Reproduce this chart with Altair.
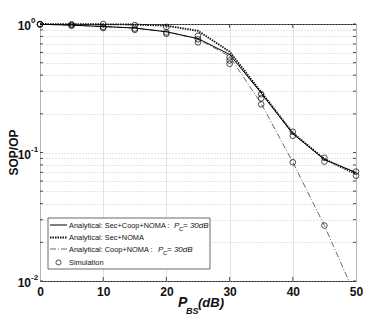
import altair as alt
import pandas as pd

# ---------------- data ----------------
p_bs = [0, 5, 10, 15, 20, 25, 30, 35, 40, 45, 50]
sop_sec_coop = [0.995, 0.98, 0.955, 0.93, 0.87, 0.77, 0.58, 0.29, 0.14, 0.088, 0.070]
sop_sec = [1.0, 0.998, 0.995, 0.99, 0.97, 0.885, 0.61, 0.295, 0.142, 0.089, 0.068]
op_coop = [0.995, 0.98, 0.955, 0.93, 0.87, 0.765, 0.56, 0.24, 0.084, 0.027, 0.0075]

sim_sec_coop = [0.99, 0.97, 0.93, 0.90, 0.84, 0.72, 0.52, 0.264, 0.135, 0.085, 0.066]
sim_sec = [1.0, 0.995, 1.0, 0.98, 0.95, 0.81, 0.55, 0.284, 0.145, 0.091, 0.071]
sim_coop = [0.995, 0.98, 0.95, 0.92, 0.86, 0.76, 0.49, 0.237, 0.084, 0.027, None]

x_ticks = [0, 10, 20, 30, 40, 50]
y_major = [1, 0.1, 0.01]
y_major_sup = ["0", "-1", "-2"]
y_grid = [m * d for d in (0.01, 0.1) for m in range(1, 10)] + [1]

legend_labels = ["Analytical: Sec+Coop+NOMA :", "Analytical: Sec+NOMA",
                 "Analytical: Coop+NOMA :", "Simulation"]

# ---------------- frames ----------------
df_lines = pd.DataFrame({"x": p_bs, "a": sop_sec_coop, "b": sop_sec, "c": op_coop})
sims = []
for xv, v in zip(p_bs, sim_sec_coop):
    sims.append({"x": xv, "y": v})
for xv, v in zip(p_bs, sim_sec):
    sims.append({"x": xv, "y": v})
for xv, v in zip(p_bs, sim_coop):
    if v is not None:
        sims.append({"x": xv, "y": v})
df_sims = pd.DataFrame(sims)

W, H = 316, 257
FONT = "Liberation Sans"

xs = alt.Scale(domain=[0, 50], nice=False)
ys = alt.Scale(type="log", domain=[0.01, 1], nice=False)

x_axis = alt.Axis(values=x_ticks, grid=True, gridColor="#d9d9d9", gridWidth=0.8,
                  ticks=False, domain=False, labelFont=FONT, labelFontWeight="bold",
                  labelFontSize=12, labelColor="#111", labelPadding=5, title=None,
                  labelFlush=False)
y_axis = alt.Axis(values=y_grid, grid=True, gridColor="#bdbdbd", gridDash=[1, 2],
                  gridWidth=0.8, ticks=False, domain=False, labels=False, title=None)

base = alt.Chart(df_lines)

grid = alt.Chart(df_lines).mark_point(opacity=0).encode(
    x=alt.X("x:Q", scale=xs, axis=x_axis),
    y=alt.Y("a:Q", scale=ys, axis=y_axis),
)

line_a = base.mark_line(color="#000", strokeWidth=1).encode(
    x=alt.X("x:Q", scale=xs), y=alt.Y("a:Q", scale=ys))
line_b = base.mark_line(color="#111", strokeWidth=1.8, strokeDash=[1.5, 1]).encode(
    x=alt.X("x:Q", scale=xs), y=alt.Y("b:Q", scale=ys))
line_c = base.mark_line(color="#444", strokeWidth=0.8, strokeDash=[6, 2, 1, 2], clip=True).encode(
    x=alt.X("x:Q", scale=xs), y=alt.Y("c:Q", scale=ys))

pts = alt.Chart(df_sims).mark_point(shape="circle", filled=False, color="#000",
                                     size=32, strokeWidth=1).encode(
    x=alt.X("x:Q", scale=xs), y=alt.Y("y:Q", scale=ys))

# inward ticks
df_xt = pd.DataFrame({"x": x_ticks[1:-1]})
xt_bot = alt.Chart(df_xt).mark_rule(color="#222", strokeWidth=0.8).encode(
    x=alt.X("x:Q", scale=xs), y=alt.value(H), y2=alt.value(H - 4))
xt_top = alt.Chart(df_xt).mark_rule(color="#222", strokeWidth=0.8).encode(
    x=alt.X("x:Q", scale=xs), y=alt.value(0), y2=alt.value(4))
df_yt = pd.DataFrame({"y": y_grid})
yt_r = alt.Chart(df_yt).mark_rule(color="#222", strokeWidth=0.8).encode(
    y=alt.Y("y:Q", scale=ys), x=alt.value(W), x2=alt.value(W - 3))
yt_l = alt.Chart(df_yt).mark_rule(color="#222", strokeWidth=0.8).encode(
    y=alt.Y("y:Q", scale=ys), x=alt.value(0), x2=alt.value(3))

# y tick labels 10^k
df_yl = pd.DataFrame({"y": y_major, "sup": y_major_sup})
yl_base = alt.Chart(df_yl).mark_text(font=FONT, fontWeight="bold", fontSize=12,
                                     align="right", baseline="middle", dy=2,
                                     color="#111").encode(
    y=alt.Y("y:Q", scale=ys), x=alt.value(-9), text=alt.value("10"))
yl_sup = alt.Chart(df_yl).mark_text(font=FONT, fontWeight="bold", fontSize=8,
                                    align="left", baseline="middle", dy=-3,
                                    color="#111").encode(
    y=alt.Y("y:Q", scale=ys), x=alt.value(-9), text="sup:N")

one = alt.Data(values=[{}])


def txt(s, x, y, size, style="normal", weight="bold", align="left", font=FONT, angle=0):
    kw = dict(font=font, fontSize=size, fontStyle=style, fontWeight=weight,
              align=align, baseline="alphabetic", color="#111")
    if angle:
        kw["angle"] = angle
        kw["baseline"] = "middle"
        kw["align"] = "center"
    return alt.Chart(one).mark_text(**kw).encode(
        x=alt.value(x), y=alt.value(y), text=alt.value(s))


titles = [
    txt("P", 138, 282.5, 14, style="italic"),
    txt("BS", 146, 289.5, 9, style="italic"),
    txt("(dB)", 158, 282.5, 13, style="italic"),
    txt("SOP/OP", -26, H / 2, 12, angle=270),
]

# legend
legend_box = alt.Chart(one).mark_rect(fill="white", stroke="#444", strokeWidth=0.8).encode(
    x=alt.value(8), x2=alt.value(170), y=alt.value(194), y2=alt.value(245))
ly = [201, 213.5, 225, 238.5]
leg = [legend_box]
leg.append(alt.Chart(one).mark_rule(color="#000", strokeWidth=1).encode(
    x=alt.value(10), x2=alt.value(27), y=alt.value(ly[0])))
leg.append(alt.Chart(one).mark_rule(color="#111", strokeWidth=1.8, strokeDash=[1.5, 1]).encode(
    x=alt.value(10), x2=alt.value(27), y=alt.value(ly[1])))
leg.append(alt.Chart(one).mark_rule(color="#444", strokeWidth=0.8, strokeDash=[6, 2, 1, 2]).encode(
    x=alt.value(10), x2=alt.value(27), y=alt.value(ly[2])))
leg.append(alt.Chart(one).mark_point(shape="circle", filled=False, color="#000", size=26,
                                     strokeWidth=1).encode(
    x=alt.value(18.5), y=alt.value(ly[3])))
LS = 7.4
for i, lab in enumerate(legend_labels):
    leg.append(txt(lab, 29, ly[i] + 2.7, LS, weight="normal"))
for (px, yy) in [(134, ly[0]), (118, ly[2])]:
    leg.append(txt("P", px, yy + 2.7, LS + 0.6, style="italic", weight="normal"))
    leg.append(txt("C", px + 5, yy + 5.5, 6, style="italic", weight="normal"))
    leg.append(txt("= 30dB", px + 9, yy + 2.7, LS + 0.6, style="italic", weight="normal"))

chart = alt.layer(
    grid, line_c, line_b, line_a, pts, xt_bot, xt_top, yt_r, yt_l,
    yl_base, yl_sup, *titles, *leg
).properties(
    width=W, height=H,
    padding={"left": 32, "top": 16, "right": 28, "bottom": 38},
    autosize=alt.AutoSizeParams(type="none"),
    background="white",
).configure_view(stroke="#222", strokeWidth=1)

chart.save("out.html", embed_options={"renderer": "svg", "actions": False})
